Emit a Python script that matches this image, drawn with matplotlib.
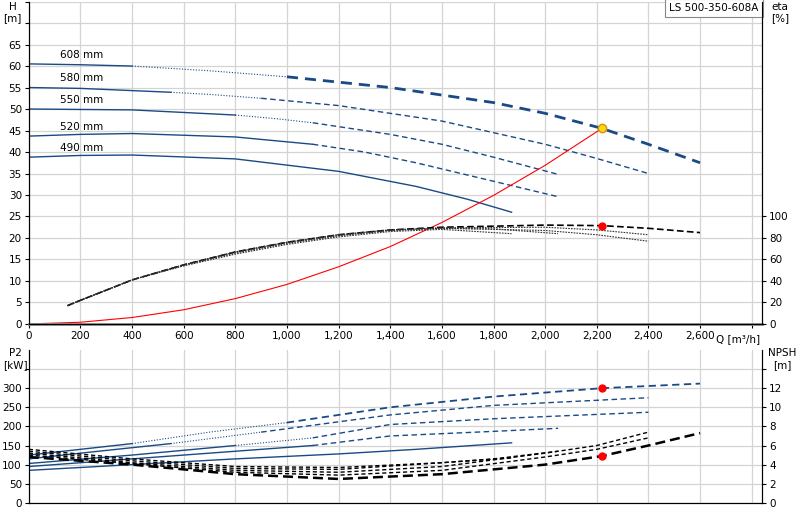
import matplotlib
matplotlib.use("Agg")
import matplotlib.pyplot as plt
from matplotlib.ticker import FuncFormatter

BLUE = "#1a4a86"
diam = ["608 mm", "580 mm", "550 mm", "520 mm", "490 mm"]

# Head curves
q_h = {
    "608": [0, 200, 400, 700, 1000, 1400, 1800, 2000, 2220, 2400, 2600],
    "580": [0, 200, 550, 700, 900, 1200, 1600, 2000, 2200, 2400],
    "550": [0, 400, 800, 950, 1100, 1400, 1600, 1800, 2050],
    "520": [0, 200, 400, 800, 1100, 1300, 1500, 1800, 2050],
    "490": [0, 200, 400, 800, 1200, 1500, 1700, 1870],
}
h_vals = {
    "608": [60.5, 60.3, 60.0, 58.9, 57.5, 55.0, 51.5, 49.0, 45.5, 41.8, 37.5],
    "580": [55.0, 54.8, 53.9, 53.4, 52.5, 50.8, 47.2, 41.8, 38.5, 35.0],
    "550": [50.0, 49.8, 48.6, 47.8, 46.8, 44.1, 41.8, 38.8, 34.8],
    "520": [43.7, 44.1, 44.3, 43.5, 41.8, 40.0, 37.5, 33.2, 29.6],
    "490": [38.8, 39.2, 39.3, 38.4, 35.5, 32.0, 29.0, 26.0],
}
h_split = {"608": (2, 4), "580": (2, 4), "550": (2, 4), "520": (4, 4), "490": (7, 7)}

# System curve
q_sys = [0, 200, 400, 600, 800, 1000, 1200, 1400, 1600, 1800, 2000, 2220]
h_sys = [0, 0.4, 1.5, 3.3, 5.9, 9.2, 13.3, 18.0, 23.6, 29.9, 36.9, 45.5]

# Efficiency curves [%]
q_eta = {
    "608": [150, 200, 400, 600, 800, 1000, 1200, 1400, 1600, 2000, 2220, 2400, 2600],
    "580": [150, 200, 400, 600, 800, 1000, 1200, 1400, 1600, 2000, 2200, 2400],
    "550": [150, 200, 400, 600, 800, 1000, 1200, 1400, 1600, 2000, 2200, 2400],
    "520": [150, 200, 400, 600, 800, 1000, 1200, 1400, 1600, 1800, 2050],
    "490": [150, 200, 400, 600, 800, 1000, 1200, 1400, 1600, 1870],
}
eta_vals = {
    "608": [17, 22, 41, 55, 67, 76, 83, 87.5, 90, 92, 91.5, 89, 85],
    "580": [17, 22, 41, 55, 67, 76, 83, 87.5, 89.5, 90, 87.5, 83],
    "550": [17, 22, 41, 55, 67, 76, 83, 87.5, 89, 87, 83, 77],
    "520": [17, 22, 41, 55, 66, 75, 82, 87, 89, 88.5, 84],
    "490": [17, 22, 41, 54, 65, 74, 81, 86, 88, 84],
}

# Power curves [kW]
q_p = {
    "608": [0, 200, 400, 700, 1000, 1400, 1800, 2220, 2600],
    "580": [0, 200, 550, 900, 1400, 1800, 2400],
    "550": [0, 400, 800, 1100, 1400, 1800, 2400],
    "520": [0, 400, 800, 1100, 1400, 1800, 2050],
    "490": [0, 400, 800, 1200, 1500, 1870],
}
p_vals = {
    "608": [125, 140, 155, 185, 210, 250, 278, 300, 312],
    "580": [115, 130, 155, 185, 230, 255, 275],
    "550": [103, 125, 150, 170, 205, 220, 237],
    "520": [95, 115, 135, 150, 175, 187, 195],
    "490": [85, 100, 115, 128, 140, 157],
}
p_split = {"608": (2, 4), "580": (2, 3), "550": (2, 3), "520": (3, 3), "490": (5, 5)}

# NPSH curves [m]
q_n = {
    "608": [0, 400, 800, 1200, 1600, 2000, 2220, 2400, 2600],
    "580": [0, 400, 800, 1200, 1600, 2000, 2200, 2400],
    "550": [0, 400, 800, 1200, 1600, 2000, 2200, 2400],
    "520": [0, 400, 800, 1200, 1600, 1800, 2050],
    "490": [0, 400, 800, 1200, 1600, 1870],
}
n_vals = {
    "608": [4.8, 4.0, 3.0, 2.5, 3.0, 4.0, 4.9, 6.0, 7.3],
    "580": [5.0, 4.1, 3.2, 2.9, 3.4, 4.8, 5.6, 6.8],
    "550": [5.2, 4.2, 3.4, 3.2, 3.8, 5.2, 6.0, 7.4],
    "520": [5.4, 4.4, 3.6, 3.5, 4.2, 4.6, 5.4],
    "490": [5.6, 4.6, 3.8, 3.7, 4.2, 4.7],
}

op_q = 2220
op_h, op_eta, op_p, op_n = 45.5, 91.5, 300, 4.9
xticks = list(range(0, 2801, 200))


def seg_plot(ax, q, v, split, color, lw_dash=1.0):
    s, d = split
    ax.plot(q[:s + 1], v[:s + 1], color=color, lw=1.0, ls="-")
    if d > s:
        ax.plot(q[s:d + 1], v[s:d + 1], color=color, lw=0.8, ls=(0, (1, 1.5)))
    if d < len(q) - 1:
        ax.plot(q[d:], v[d:], color=color, lw=lw_dash, ls=(0, (4, 2.5)))


fig = plt.figure(figsize=(8, 5.2), dpi=100)
ax = fig.add_axes([0.036, 0.377, 0.9165, 0.62])
ax2 = fig.add_axes([0.036, 0.033, 0.9165, 0.294])

for a in (ax, ax2):
    a.set_xlim(0, 2840)
    a.set_xticks(xticks)
    a.grid(True, color="#d4d4d4", lw=0.9)
    a.set_axisbelow(True)
    a.spines["top"].set_visible(False)
    a.tick_params(labelsize=7.5, length=3, pad=2)

ax.set_ylim(0, 75)
ax.set_yticks(range(0, 76, 5))
ax.set_yticklabels([str(v) if v <= 65 else "" for v in range(0, 76, 5)])
ax.xaxis.set_major_formatter(FuncFormatter(lambda v, p: f"{int(v):,}" if v <= 2600 else ""))
ax.spines["bottom"].set_color("#888888")
ax.spines["bottom"].set_linewidth(2)

for i, k in enumerate(q_h):
    seg_plot(ax, q_h[k], h_vals[k], h_split[k], BLUE, lw_dash=2.0 if k == "608" else 1.0)
    ax.text(120, h_vals[k][0] + 1.0, diam[i], fontsize=7.5, va="bottom")
ax.plot(q_sys, h_sys, color="red", lw=0.8)
ax.plot(op_q, op_h, "o", color="#ffd21f", mec="#cc9900", ms=6, zorder=5)

axe = ax.twinx()
axe.set_ylim(0, 300)
axe.set_yticks(range(0, 101, 20))
axe.tick_params(labelsize=7.5, length=3, pad=2)
axe.spines["top"].set_visible(False)
for k in q_eta:
    if k == "608":
        axe.plot(q_eta[k], eta_vals[k], color="black", lw=1.2, ls=(0, (4, 2)))
    else:
        axe.plot(q_eta[k], eta_vals[k], color="#333333", lw=0.8, ls=(0, (1.5, 1)))
axe.plot(op_q, op_eta, "o", color="red", ms=5, zorder=5)

fig.text(0.016, 0.997, "H\n[m]", ha="center", va="top", fontsize=7.5)
fig.text(0.975, 0.997, "eta\n[%]", ha="center", va="top", fontsize=7.5)
ax.text(2660, -2.3, "Q [m³/h]", fontsize=7.5, va="top")
ax.text(0.995, 0.995, "LS 500-350-608A", transform=ax.transAxes, ha="right", va="top",
        fontsize=7.5, bbox=dict(facecolor="white", edgecolor="#888888", lw=0.8, pad=3))

ax2.set_ylim(0, 400)
ax2.set_yticks(range(0, 351, 50))
ax2.set_yticklabels([str(v) if v <= 300 else "" for v in range(0, 351, 50)])
ax2.set_xticklabels([])
ax2.tick_params(axis="x", length=0)
for k in q_p:
    seg_plot(ax2, q_p[k], p_vals[k], p_split[k], BLUE, lw_dash=1.3 if k == "608" else 1.0)
ax2.plot(op_q, op_p, "o", color="red", ms=5, zorder=5)

axn = ax2.twinx()
axn.set_ylim(0, 16)
axn.set_yticks(range(0, 15, 2))
axn.set_yticklabels([str(v) if v <= 12 else "" for v in range(0, 15, 2)])
axn.tick_params(labelsize=7.5, length=3, pad=2)
axn.spines["top"].set_visible(False)
for k in q_n:
    if k == "608":
        axn.plot(q_n[k], n_vals[k], color="black", lw=1.8, ls=(0, (4, 2)))
    else:
        axn.plot(q_n[k], n_vals[k], color="black", lw=1.0, ls=(0, (3, 2)))
axn.plot(op_q, op_n, "o", color="red", ms=5, zorder=5)

fig.text(0.019, 0.33, "P2\n[kW]", ha="center", va="top", fontsize=7.5)
fig.text(0.978, 0.33, "NPSH\n[m]", ha="center", va="top", fontsize=7.5)

fig.savefig("out.png", dpi=100)
